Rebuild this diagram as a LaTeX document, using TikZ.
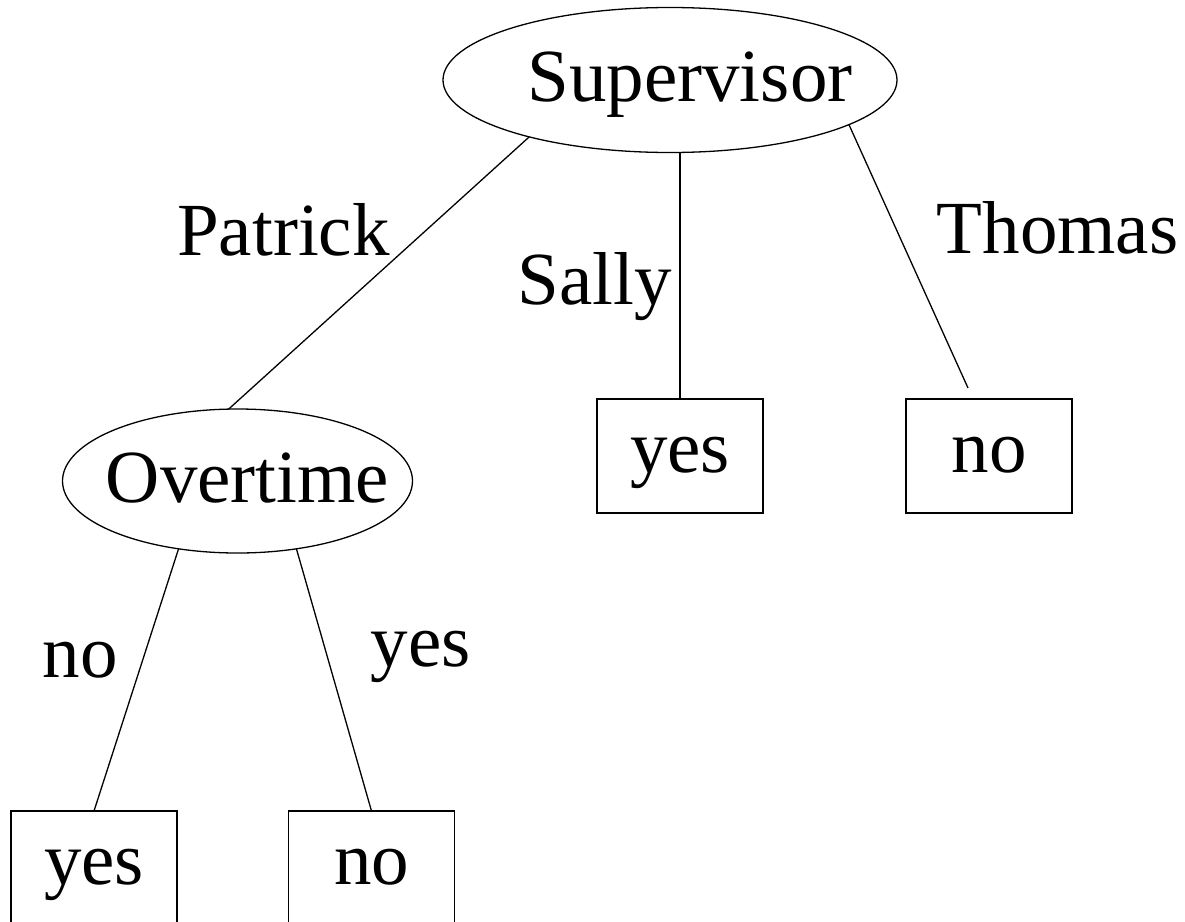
\documentclass[tikz,border=0pt]{standalone}
\usepackage{fontspec}
\setmainfont{Liberation Serif}
\usetikzlibrary{shapes.geometric}
\begin{document}
\begin{tikzpicture}[x=1pt,y=-1pt,
  every node/.style={font=\fontsize{75}{90}\selectfont, inner sep=0pt, outer sep=0pt},
  test/.style={ellipse, draw, line width=1.3pt, text height=52pt, text depth=10pt},
  leaf/.style={rectangle, draw, line width=1.3pt, minimum width=166pt, minimum height=114pt,
               text height=52pt, text depth=20pt},
  edge/.style={line width=1.3pt},
  lbl/.style={anchor=base}]
\useasboundingbox (0,0) rectangle (1185,921);

% attribute tests (names set slightly right of the ellipse centre)
\node[test, minimum width=454pt, minimum height=145pt] (sup) at (670,80) {\makebox[0pt]{\hspace*{40pt}Supervisor}};
\node[test, minimum width=350pt, minimum height=144pt] (over) at (237.5,481) {\makebox[0pt]{\hspace*{20pt}Overtime}};

% leaves
\node[leaf] (yesS) at (680,456) {yes};
\node[leaf] (noT)  at (989,456) {no};
\node[leaf] (yesN) at (94,868) {yes};
\node[leaf] (noY)  at (371.5,868) {no};

% branches
\draw[edge] (sup.202.6) -- (over.97);
\draw[edge] (yesS.north) -- (yesS.north |- sup.south);
\draw[edge] (sup.346) -- ([xshift=-21pt,yshift=11pt]noT.north);
\draw[edge] (over.229) -- (yesN.north);
\draw[edge] (over.311) -- (noY.north);

% branch labels
\node[lbl] (lPatrick) at (283.5,255) {Patrick};
\node[lbl] (lSally)   at (594.5,304) {Sally};
\node[lbl] (lThomas)  at (1057.5,253) {Thomas};
\node[lbl] (lNo)      at (80,677) {no};
\node[lbl] (lYes)     at (420.5,666) {yes};
\end{tikzpicture}
\end{document}
